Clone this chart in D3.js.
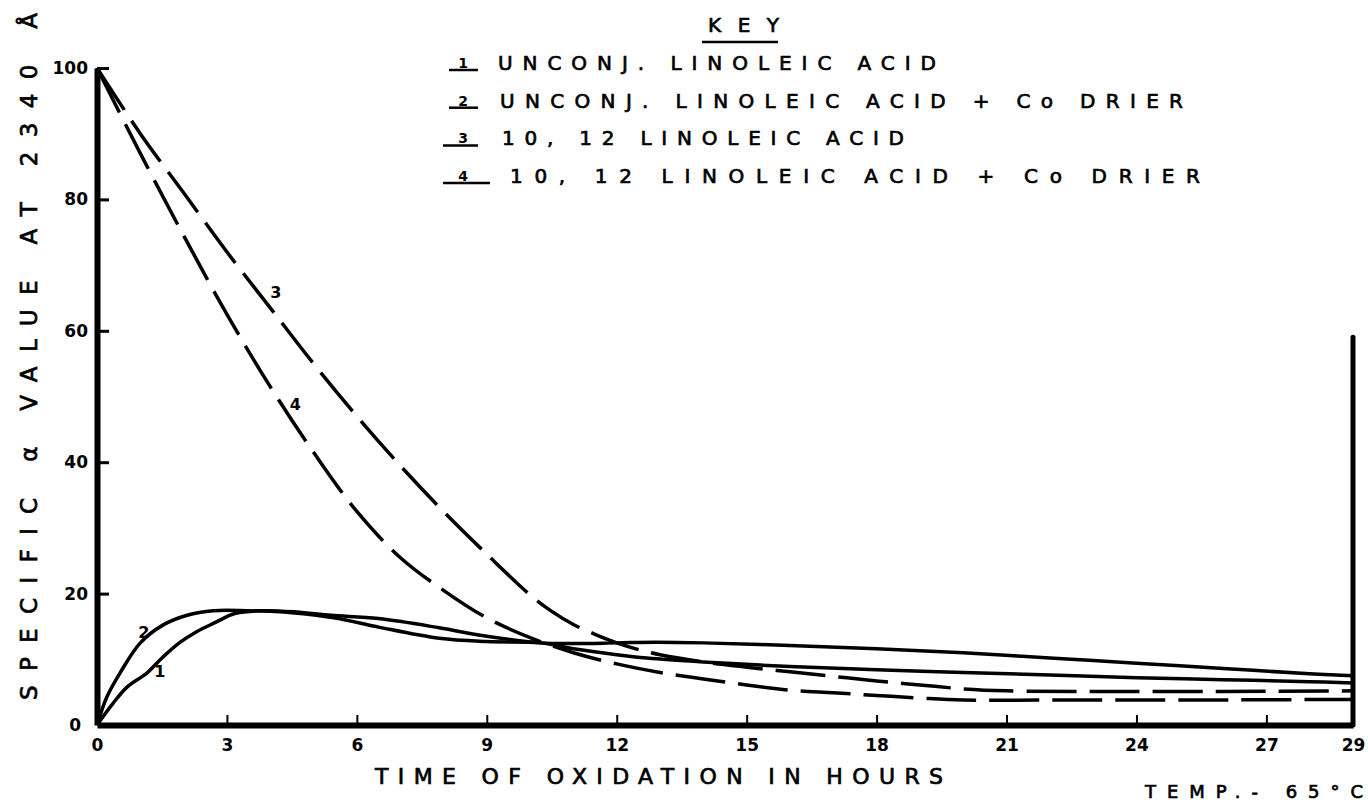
<!DOCTYPE html>
<html lang="en">
<head>
    <meta charset="UTF-8">
    <title>Specific alpha value vs time of oxidation</title>
    <script src="https://d3js.org/d3.v7.min.js"></script>
    <style>
        body { margin: 0; background: #fff; }
        svg { display: block; }
        text { font-family: "DejaVu Sans", sans-serif; fill: #000; }
        .pen { stroke: #000; stroke-width: 0.7px; }
        .tick text { font-size: 17px; font-weight: bold; }
        .axis path, .axis line { stroke: #000; }
    </style>
</head>
<body>
    <div id="chart"></div>

    <script>
        // tick labels
        var xTicks = [0, 3, 6, 9, 12, 15, 18, 21, 24, 27, 29];
        var yTicks = [0, 20, 40, 60, 80, 100];

        // curve 1: unconj. linoleic acid
        var hours1 = [0, 0.37, 0.7, 1.15, 1.5, 1.9, 2.3, 2.7, 3.2, 3.8, 4.6, 5.4, 6.5, 7.9, 9, 10.25, 11, 12, 12.9, 14, 16, 18, 20, 22, 24, 26, 28, 29];
        var curve1 = [0, 3.3, 5.8, 7.9, 10.2, 12.5, 14.2, 15.5, 17, 17.4, 17.2, 16.7, 16.2, 14.8, 13.5, 12.5, 12.4, 12.5, 12.6, 12.5, 12.1, 11.6, 11, 10.2, 9.4, 8.6, 7.8, 7.5];
        // curve 2: unconj. linoleic acid + Co drier
        var hours2 = [0, 0.23, 0.53, 1, 1.52, 2.08, 2.68, 3.46, 4.5, 5.5, 6.5, 7.9, 9, 10.25, 11, 12, 12.7, 14, 16, 18, 20, 22, 24, 26, 28, 29];
        var curve2 = [0, 4.3, 7.9, 12.5, 15.2, 16.7, 17.4, 17.4, 17.1, 16.3, 14.9, 13.2, 12.7, 12.5, 11.6, 10.7, 10.2, 9.6, 8.9, 8.4, 8, 7.6, 7.2, 6.9, 6.6, 6.4];
        // curve 3: 10,12 linoleic acid
        var hours3 = [0, 1, 2, 3, 4, 5, 6, 7, 8, 9, 10, 10.5, 11, 11.5, 12, 12.6, 13, 14, 15, 16, 17, 18, 19, 20, 21, 23, 26, 29];
        var curve3 = [100, 90, 81, 72, 63.5, 55, 47, 39.5, 32.5, 26, 19.8, 17.3, 15.3, 13.8, 12.5, 11.3, 10.7, 9.6, 8.8, 8.1, 7.4, 6.7, 6.1, 5.5, 5.2, 5.1, 5.1, 5.2];
        // curve 4: 10,12 linoleic acid + Co drier
        var hours4 = [0, 1, 2, 3, 4, 5, 6, 7, 8, 9, 10, 11, 12, 13, 14, 15, 16, 17, 18, 19, 20, 22, 25, 29];
        var curve4 = [100, 87, 74.5, 62.5, 51.5, 41.5, 32.5, 25.5, 20.5, 16.3, 13.3, 11, 9.3, 8, 7, 6.1, 5.3, 4.9, 4.5, 4.1, 3.8, 3.8, 3.8, 3.9];

        var rightLineTop = 59;

        var keyNumbers = ["1", "2", "3", "4"];
        var keyLabels = [
            "UNCONJ. LINOLEIC  ACID",
            "UNCONJ. LINOLEIC  ACID  +  Co DRIER",
            "10, 12  LINOLEIC  ACID",
            "10, 12  LINOLEIC  ACID  +   Co DRIER"
        ];

        var width = 1368, height = 806;
        var svg = d3.select("#chart").append("svg")
            .attr("width", width)
            .attr("height", height);

        var x = d3.scaleLinear().domain([0, 29]).range([97, 1353]);
        var y = d3.scaleLinear().domain([0, 100]).range([725, 68]);

        // axes
        var xAxis = svg.append("g")
            .attr("class", "axis")
            .attr("transform", "translate(0," + y(0) + ")")
            .call(d3.axisBottom(x).tickValues(xTicks).tickSize(-10).tickSizeOuter(0).tickPadding(14));
        xAxis.select(".domain").attr("stroke-width", 6);
        xAxis.selectAll(".tick line").attr("stroke-width", 2);
        xAxis.selectAll(".tick").filter(d => d === 0 || d === 29).select("line").remove();

        var yAxis = svg.append("g")
            .attr("class", "axis")
            .attr("transform", "translate(" + x(0) + ",0)")
            .call(d3.axisLeft(y).tickValues(yTicks).tickSize(-12).tickSizeOuter(0).tickPadding(9));
        yAxis.select(".domain").attr("stroke-width", 6);
        yAxis.selectAll(".tick line").attr("stroke-width", 3);
        yAxis.selectAll(".tick").filter(d => d === 0).select("line").remove();
        yAxis.selectAll(".tick text").filter(d => d === 0).attr("x", -16);

        // right boundary
        svg.append("line")
            .attr("x1", x(29)).attr("x2", x(29))
            .attr("y1", y(0)).attr("y2", y(rightLineTop))
            .attr("stroke", "#000").attr("stroke-width", 5)
            .attr("stroke-linecap", "round");

        var line = d3.line().curve(d3.curveCatmullRom.alpha(0.5));

        function drawCurve(hours, vals, dashed) {
            svg.append("path")
                .attr("d", line(hours.map((h, i) => [x(h), y(vals[i])])))
                .attr("fill", "none")
                .attr("stroke", "#000")
                .attr("stroke-width", 3.5)
                .attr("stroke-dasharray", dashed ? "50,13" : null);
        }
        drawCurve(hours1, curve1, false);
        drawCurve(hours2, curve2, false);
        drawCurve(hours3, curve3, true);
        drawCurve(hours4, curve4, true);

        // curve labels
        var curveLabels = [
            { t: "1", h: 1.32, v: 7.3 },
            { t: "2", h: 0.95, v: 13.2 },
            { t: "3", h: 4.0, v: 65 },
            { t: "4", h: 4.45, v: 48 }
        ];
        svg.selectAll(".clabel").data(curveLabels).enter().append("text")
            .attr("class", "clabel")
            .attr("x", d => x(d.h)).attr("y", d => y(d.v))
            .style("font-size", "16px").style("font-weight", "bold")
            .text(d => d.t);

        // key
        svg.append("text")
            .attr("class", "pen")
            .attr("x", 708).attr("y", 32)
            .attr("textLength", 71).attr("lengthAdjust", "spacing")
            .style("font-size", "20px")
            .text("KEY");
        svg.append("line")
            .attr("x1", 702).attr("x2", 778).attr("y1", 42).attr("y2", 42)
            .attr("stroke", "#000").attr("stroke-width", 2.5);

        var keyStart = [498, 500, 502, 510];
        var keyLengths = [438, 683, 402, 690];
        var key = svg.selectAll(".key").data(keyLabels).enter().append("g")
            .attr("class", "key")
            .attr("transform", (d, i) => "translate(0," + (70 + i * 37.7) + ")");
        key.append("text")
            .attr("x", 463).attr("y", -2).attr("text-anchor", "middle")
            .style("font-size", "14px").style("font-weight", "bold")
            .text((d, i) => keyNumbers[i]);
        key.append("line")
            .attr("x1", (d, i) => i < 2 ? 449 : 443).attr("x2", (d, i) => i === 3 ? 490 : 478)
            .attr("y1", 0).attr("y2", 0)
            .attr("stroke", "#000").attr("stroke-width", 2.5);
        key.append("text")
            .attr("class", "pen")
            .attr("x", (d, i) => keyStart[i])
            .attr("textLength", (d, i) => keyLengths[i]).attr("lengthAdjust", "spacing")
            .style("font-size", "20px")
            .text(d => d);

        // axis titles
        svg.append("text")
            .attr("class", "pen")
            .attr("x", 375).attr("y", 784)
            .attr("textLength", 568).attr("lengthAdjust", "spacing")
            .style("font-size", "22px")
            .text("TIME  OF  OXIDATION  IN  HOURS");

        svg.append("text")
            .attr("class", "pen")
            .attr("x", 1145).attr("y", 798)
            .attr("textLength", 218).attr("lengthAdjust", "spacing")
            .style("font-size", "18px")
            .text("TEMP.- 65°C");

        svg.append("text")
            .attr("class", "pen")
            .attr("transform", "translate(37,700) rotate(-90)")
            .attr("textLength", 687).attr("lengthAdjust", "spacing")
            .style("font-size", "23px")
            .text("SPECIFIC α VALUE AT 2340 Å");
    </script>
</body>
</html>
